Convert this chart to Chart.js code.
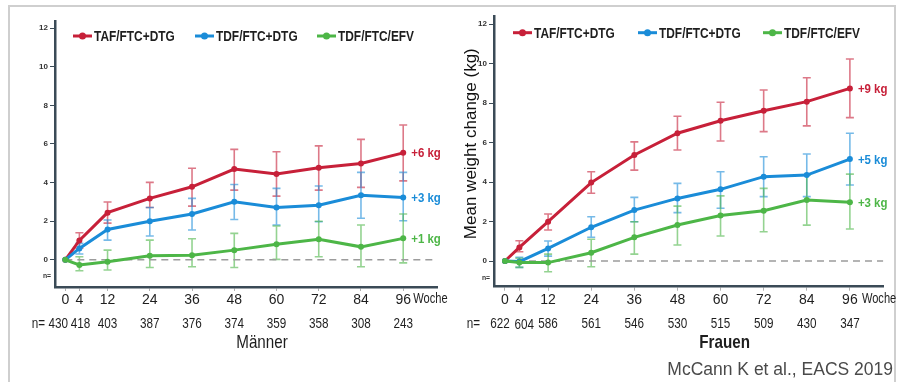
<!DOCTYPE html>
<html>
<head>
<meta charset="utf-8">
<script src="https://cdn.jsdelivr.net/npm/chart.js@4.4.1/dist/chart.umd.min.js"></script>
<style>
  html, body { margin: 0; padding: 0; background: #fff; }
  body { width: 901px; height: 382px; position: relative; overflow: hidden; font-family: "Liberation Sans", Arial, sans-serif; }
  .frame { position: absolute; left: 8px; top: 5px; width: 888px; height: 400px; border: 2px solid #cfcfcf; box-sizing: border-box; }
  canvas { position: absolute; top: 0; }
  #menChart { left: 0; }
  #womenChart { left: 450px; }
  .source { position: absolute; right: 8px; top: 359px; font-size: 17.5px; color: #4a4a4a; white-space: nowrap; }
</style>
</head>
<body>
<div class="frame"></div>
<canvas id="menChart" width="450" height="382"></canvas>
<canvas id="womenChart" width="451" height="382"></canvas>
<div class="source">McCann K et al., EACS 2019</div>

<script>
// Wochen und Achsenbeschriftung
const weeks = [0, 4, 12, 24, 36, 48, 60, 72, 84, 96];
const yTicks = [0, 2, 4, 6, 8, 10, 12];
const regimens = ['TAF/FTC+DTG', 'TDF/FTC+DTG', 'TDF/FTC/EFV'];
const colors = ['#c72039', '#1a8cd8', '#4db647'];
const barColors = ['rgba(199,32,57,0.6)', 'rgba(26,140,216,0.6)', 'rgba(77,182,71,0.6)'];

// Männer
const menTAF   = [0, 1.00, 2.44, 3.18, 3.78, 4.70, 4.44, 4.77, 4.99, 5.54];
const menTAFlo = [0, 0.60, 1.90, 2.71, 2.78, 3.61, 3.30, 3.61, 3.75, 4.09];
const menTAFhi = [0, 1.40, 2.99, 4.01, 4.74, 5.72, 5.60, 5.90, 6.24, 6.98];
const menTDF   = [0, 0.59, 1.57, 2.00, 2.37, 3.00, 2.71, 2.83, 3.34, 3.23];
const menTDFlo = [0, 0.30, 1.02, 1.23, 1.54, 2.09, 1.80, 1.97, 2.15, 2.02];
const menTDFhi = [0, 0.85, 2.06, 2.71, 3.18, 3.90, 3.70, 3.82, 4.53, 4.53];
const menEFV   = [0, -0.27, -0.10, 0.21, 0.24, 0.50, 0.81, 1.06, 0.67, 1.11];
const menEFVlo = [0, -0.57, -0.53, -0.40, -0.36, -0.40, 0.02, 0.16, -0.36, -0.16];
const menEFVhi = [0, 0.16, 0.50, 1.02, 1.09, 1.37, 1.75, 2.00, 1.80, 2.37];
const menN = [430, 418, 403, 387, 376, 374, 359, 358, 308, 243];
const menEnd = ['+6 kg', '+3 kg', '+1 kg'];

// Frauen
const womenTAF   = [0, 0.69, 1.99, 3.97, 5.37, 6.47, 7.10, 7.61, 8.07, 8.74];
const womenTAFlo = [0, 0.47, 1.57, 3.43, 4.60, 5.62, 6.08, 6.55, 6.84, 7.26];
const womenTAFhi = [0, 1.03, 2.38, 4.52, 6.03, 7.33, 8.04, 8.66, 9.28, 10.23];
const womenTDF   = [0, -0.03, 0.64, 1.71, 2.58, 3.17, 3.63, 4.27, 4.35, 5.16];
const womenTDFlo = [0, -0.32, 0.25, 1.20, 1.99, 2.45, 2.67, 3.26, 3.26, 3.85];
const womenTDFhi = [0, 0.19, 1.01, 2.24, 3.22, 3.93, 4.52, 5.28, 5.42, 6.47];
const womenEFV   = [0, -0.07, -0.08, 0.42, 1.20, 1.82, 2.30, 2.55, 3.09, 2.97];
const womenEFVlo = [0, -0.32, -0.54, -0.29, 0.35, 0.81, 1.27, 1.48, 1.82, 1.62];
const womenEFVhi = [0, 0.14, 0.35, 1.10, 1.99, 2.78, 3.30, 3.68, 4.35, 4.40];
const womenN = [622, 604, 586, 561, 546, 530, 515, 509, 430, 347];
const womenEnd = ['+9 kg', '+5 kg', '+3 kg'];

const SANS = '"Liberation Sans", Arial, sans-serif';
const AXIS = '#3b4b57';

function pts(vals) {
    return vals.map((v, i) => ({ x: weeks[i], y: v }));
}

// schmal gezeichneter Text (die Vorlage nutzt eine Condensed-Schrift)
function narrowText(ctx, text, x, y, sx) {
    ctx.save();
    ctx.translate(x, y);
    ctx.scale(sx, 1);
    ctx.fillText(text, 0, 0);
    ctx.restore();
}

// Fehlerbalken, Legende, n-Zeile, Beschriftungen
const decorPlugin = {
    id: 'decor',
    beforeDatasetsDraw(chart) {
        const ctx = chart.ctx;
        const xs = chart.scales.x, ys = chart.scales.y;
        chart.data.datasets.forEach(ds => {
            if (!ds.errLo) return;
            ctx.save();
            ctx.strokeStyle = ds.barColor;
            ctx.lineWidth = 1.6;
            ds.errLo.forEach((lo, i) => {
                const hi = ds.errHi[i];
                if (lo === hi) return;
                const px = xs.getPixelForValue(weeks[i]);
                const y1 = ys.getPixelForValue(lo), y2 = ys.getPixelForValue(hi);
                ctx.beginPath();
                ctx.moveTo(px, y1); ctx.lineTo(px, y2);
                ctx.moveTo(px - 4, y1); ctx.lineTo(px + 4, y1);
                ctx.moveTo(px - 4, y2); ctx.lineTo(px + 4, y2);
                ctx.stroke();
            });
            ctx.restore();
        });
    },
    afterDraw(chart, args, opts) {
        const ctx = chart.ctx;
        const xs = chart.scales.x, ys = chart.scales.y;
        const area = chart.chartArea;
        ctx.save();

        // Endwerte rechts neben dem letzten Punkt
        ctx.font = 'bold 13px ' + SANS;
        ctx.textBaseline = 'middle';
        ctx.textAlign = 'left';
        chart.data.datasets.forEach(ds => {
            if (!ds.endLabel) return;
            const last = ds.data[ds.data.length - 1];
            ctx.fillStyle = ds.borderColor;
            narrowText(ctx, ds.endLabel, xs.getPixelForValue(last.x) + 8, ys.getPixelForValue(last.y) + 1, 0.88);
        });

        // Legende oben im Diagramm
        let lx = area.left + opts.legendX;
        const ly = area.top + opts.legendY;
        chart.data.datasets.forEach(ds => {
            if (!ds.endLabel) return;
            ctx.strokeStyle = ds.borderColor;
            ctx.fillStyle = ds.borderColor;
            ctx.lineWidth = 3;
            ctx.beginPath();
            ctx.moveTo(lx, ly); ctx.lineTo(lx + 19, ly);
            ctx.stroke();
            ctx.beginPath();
            ctx.arc(lx + 9.5, ly, 3.5, 0, Math.PI * 2);
            ctx.fill();
            ctx.fillStyle = '#1e1e1e';
            ctx.font = 'bold 14px ' + SANS;
            narrowText(ctx, ds.label, lx + 21, ly + 1, 0.85);
            lx += opts.legendGap;
        });

        // "Woche" hinter der letzten Achsenmarke
        ctx.fillStyle = '#1e1e1e';
        ctx.font = '15px ' + SANS;
        narrowText(ctx, 'Woche', xs.getPixelForValue(weeks[weeks.length - 1]) + opts.wocheGap, area.bottom + 12, 0.74);

        // n-Zeile
        ctx.textAlign = 'center';
        opts.n.forEach((n, i) => {
            const dx = opts.nShift[i] || 0;
            narrowText(ctx, String(n), xs.getPixelForValue(weeks[i]) + dx, area.bottom + 37 + (opts.nDrop[i] || 0), 0.78);
        });
        ctx.textAlign = 'right';
        narrowText(ctx, 'n=', area.left + opts.nEqX, area.bottom + 37, 0.78);

        // kleines "n=" unter der Nulllinie
        ctx.font = 'bold 8px ' + SANS;
        ctx.fillStyle = '#333';
        narrowText(ctx, 'n=', area.left - 4, ys.getPixelForValue(-0.85), 0.85);

        // Titel unter der Achse
        ctx.textAlign = 'center';
        ctx.fillStyle = '#1e1e1e';
        ctx.font = opts.titleFont;
        narrowText(ctx, opts.title, (area.left + area.right) / 2 + opts.titleShift, area.bottom + 56, 0.8);

        // y-Achsentitel
        if (opts.yTitle) {
            ctx.translate(area.left - 23, (area.top + area.bottom) / 2 - 8);
            ctx.rotate(-Math.PI / 2);
            ctx.font = '17px ' + SANS;
            ctx.fillStyle = '#111';
            ctx.fillText(opts.yTitle, 0, 0);
        }
        ctx.restore();
    }
};

function makeChart(id, series, lows, highs, ends, cfg) {
    const datasets = [{
        label: 'zero',
        data: [{ x: 0, y: 0 }, { x: cfg.xMax, y: 0 }],
        borderColor: '#9c9c9c',
        borderWidth: 1.6,
        borderDash: [7, 5],
        pointRadius: 0,
        order: 10
    }];
    series.forEach((vals, k) => {
        datasets.push({
            label: regimens[k],
            data: pts(vals),
            borderColor: colors[k],
            backgroundColor: colors[k],
            barColor: barColors[k],
            errLo: lows[k],
            errHi: highs[k],
            endLabel: ends[k],
            borderWidth: 3,
            pointRadius: 3,
            pointBorderWidth: 0,
            tension: 0,
            order: 3 - k
        });
    });

    return new Chart(document.getElementById(id), {
        type: 'line',
        data: { datasets },
        plugins: [decorPlugin],
        options: {
            responsive: false,
            animation: false,
            layout: { padding: cfg.padding },
            plugins: {
                legend: { display: false },
                tooltip: { enabled: false },
                decor: cfg.decor
            },
            scales: {
                x: {
                    type: 'linear',
                    min: cfg.xMin,
                    max: cfg.xMax,
                    afterBuildTicks: s => { s.ticks = weeks.map(v => ({ value: v })); },
                    afterFit: s => { s.height = cfg.xHeight; },
                    grid: { display: true, drawOnChartArea: false, drawTicks: true, tickLength: 4, color: '#b0b0b0', lineWidth: 1 },
                    border: { display: true, color: AXIS, width: 2.5 },
                    ticks: {
                        autoSkip: false, maxRotation: 0, padding: 1,
                        color: '#1e1e1e',
                        font: { family: SANS, size: 14 }
                    }
                },
                y: {
                    min: cfg.yMin,
                    max: cfg.yMax,
                    afterBuildTicks: s => { s.ticks = yTicks.map(v => ({ value: v })); },
                    afterFit: s => { s.width = 20; },
                    grid: { display: true, drawOnChartArea: false, drawTicks: true, tickLength: 5, color: AXIS, lineWidth: 1 },
                    border: { display: true, color: AXIS, width: 2.5 },
                    ticks: {
                        padding: 2,
                        color: '#333',
                        font: { family: SANS, size: 8, weight: 'bold' }
                    }
                }
            }
        }
    });
}

makeChart('menChart',
    [menTAF, menTDF, menEFV],
    [menTAFlo, menTDFlo, menEFVlo],
    [menTAFhi, menTDFhi, menEFVhi],
    menEnd,
    {
        xMin: -2.93, xMax: 105.6, yMin: -1.41, yMax: 12.37, xHeight: 95,
        padding: { left: 35, top: 21, right: 13, bottom: 0 },
        decor: {
            legendX: 18, legendY: 15, legendGap: 122,
            n: menN, nShift: [-7, 1], nDrop: [],
            nEqX: -10, wocheGap: 10,
            title: 'Männer', titleFont: '19px ' + SANS, titleShift: 16
        }
    });

makeChart('womenChart',
    [womenTAF, womenTDF, womenEFV],
    [womenTAFlo, womenTDFlo, womenEFVlo],
    [womenTAFhi, womenTDFhi, womenEFVhi],
    womenEnd,
    {
        xMin: -3.06, xMax: 105.3, yMin: -1.3, yMax: 12.37, xHeight: 95.3,
        padding: { left: 24, top: 16.7, right: 17.7, bottom: 0 },
        decor: {
            legendX: 19, legendY: 16, legendGap: 125,
            n: womenN, nShift: [-5, 5], nDrop: [0, 1],
            nEqX: -14, wocheGap: 12,
            title: 'Frauen', titleFont: 'bold 19px ' + SANS, titleShift: 36,
            yTitle: 'Mean weight change (kg)'
        }
    });
</script>
</body>
</html>
